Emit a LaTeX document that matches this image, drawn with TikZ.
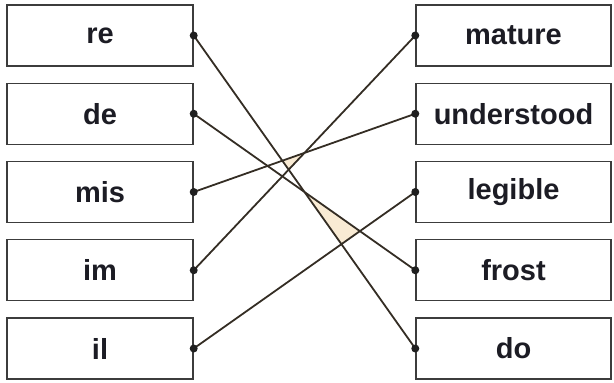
\documentclass[tikz,border=0pt]{standalone}
\usepackage{fontspec}
\setmainfont{Liberation Sans}
\usetikzlibrary{positioning}
\definecolor{CaixaBorda}{RGB}{60,60,60}
\definecolor{LinhaEscura}{RGB}{52,45,36}
\definecolor{TextoEscuro}{RGB}{28,28,36}
\definecolor{AreaPale}{RGB}{249,235,212}
\tikzset{
  caixa/.style={draw=CaixaBorda, line width=1.4pt, fill=white, minimum height=61pt,
                inner sep=0pt, text=TextoEscuro, font=\bfseries\fontsize{29}{29}\selectfont},
  linha/.style={LinhaEscura, line width=1.8pt},
  ponto/.style={fill=black!88},
}
\begin{document}
\begin{tikzpicture}[x=1pt,y=1pt]
  \useasboundingbox (0,0) rectangle (614,-383);

  % Prefixos (esquerda) e palavras (direita)
  \foreach \i/\pal in {0/re, 1/de, 2/mis, 3/im, 4/il}{
    \node[caixa, minimum width=186pt] (e\i) at (100,-35.5-78.25*\i) {\pal};
  }
  \foreach \i/\pal in {0/mature, 1/understood, 2/legible, 3/frost, 4/do}{
    \node[caixa, minimum width=195pt] (d\i) at (513.5,-35.5-78.25*\i) {\pal};
  }

  % Triangulos sombreados entre os cruzamentos
  \fill[AreaPale] (intersection of e0.east--d4.west and e2.east--d1.west)
    -- (intersection of e0.east--d4.west and e3.east--d0.west)
    -- (intersection of e2.east--d1.west and e3.east--d0.west) -- cycle;
  \fill[AreaPale] (intersection of e0.east--d4.west and e1.east--d3.west)
    -- (intersection of e0.east--d4.west and e4.east--d2.west)
    -- (intersection of e1.east--d3.west and e4.east--d2.west) -- cycle;

  % Ligacoes
  \foreach \a/\b in {0/4, 1/3, 2/1, 3/0, 4/2}{
    \draw[linha] (e\a.east) -- (d\b.west);
    \fill[ponto] (e\a.east) circle (4pt);
    \fill[ponto] (d\b.west) circle (4pt);
  }
\end{tikzpicture}
\end{document}
